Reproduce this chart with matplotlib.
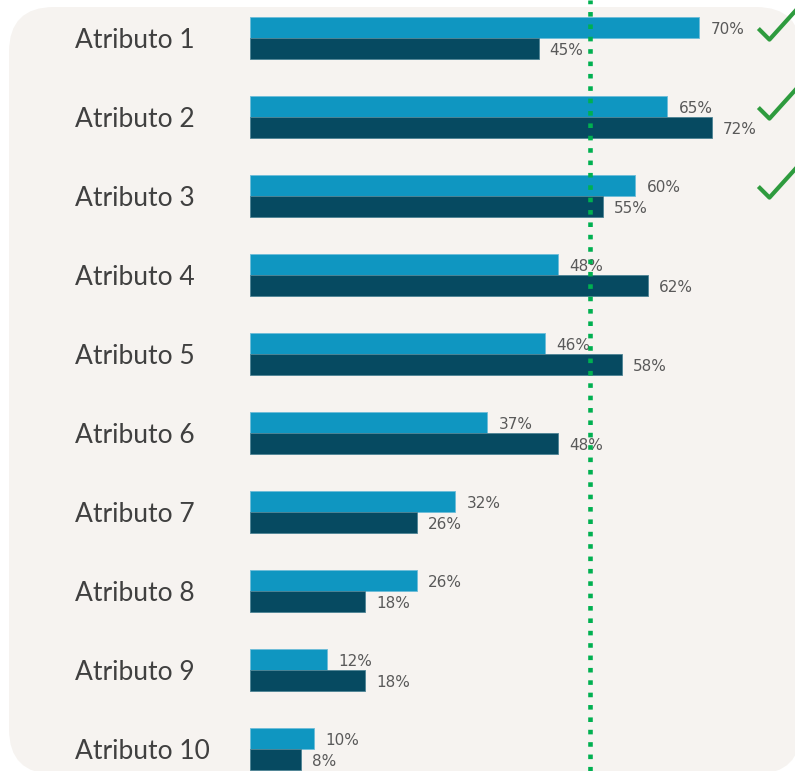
import matplotlib.pyplot as plt
from matplotlib.patches import FancyBboxPatch
from matplotlib.path import Path
import numpy as np

# datos
atributos = ['Atributo 1', 'Atributo 2', 'Atributo 3', 'Atributo 4', 'Atributo 5',
             'Atributo 6', 'Atributo 7', 'Atributo 8', 'Atributo 9', 'Atributo 10']
serie_a = [70, 65, 60, 48, 46, 37, 32, 26, 12, 10]   # barras claras
serie_b = [45, 72, 55, 62, 58, 48, 26, 18, 18, 8]    # barras oscuras
umbral = 53

claro = '#0f96c1'
oscuro = '#064a61'
verde = '#00b050'
fondo = '#f6f3f0'

fig = plt.figure(figsize=(7.95, 7.71), dpi=100)

# panel redondeado de fondo
panel = FancyBboxPatch((0.09, -0.03), 7.92, 7.67,
                       boxstyle='round,pad=0,rounding_size=0.45',
                       transform=fig.dpi_scale_trans, facecolor=fondo,
                       edgecolor='none', zorder=-1)
fig.patches.append(panel)

ax = fig.add_axes([0, 0, 1, 1])
ax.set_facecolor('none')
ax.set_xlim(-38.98, 84.97)
ax.set_ylim(9.278, -0.481)
ax.axis('off')

y = np.arange(len(atributos))
h = 0.266
ax.barh(y - h / 2, serie_a, height=h, color=claro, edgecolor='#6dbcd8', linewidth=0.6, zorder=2)
ax.barh(y + h / 2, serie_b, height=h, color=oscuro, edgecolor='#4d8394', linewidth=0.6, zorder=2)

# marca de verificación como marcador
check = Path([(-0.95, -0.2), (-0.4, -0.75), (1, 0.8)],
             [Path.MOVETO, Path.LINETO, Path.LINETO])

for i in range(len(atributos)):
    ax.text(-27.3, i + 0.03, atributos[i], fontsize=19, family='Lato',
            color='#404040', va='center', ha='left')
    ax.text(serie_a[i] + 1.8, i - h / 2 + 0.02, f'{serie_a[i]}%', fontsize=11,
            color='#595959', va='center', ha='left', zorder=1)
    ax.text(serie_b[i] + 1.7, i + h / 2 + 0.03, f'{serie_b[i]}%', fontsize=11,
            color='#595959', va='center', ha='left', zorder=1)
    if serie_a[i] > umbral:
        ax.plot(82.2, i - 0.18, marker=check, markersize=29, markerfacecolor='none',
                markeredgecolor='#2e9b3e', markeredgewidth=3.0, clip_on=False)

ax.axvline(umbral, color=verde, linewidth=3.3, linestyle=(0, (1.0, 1.7)),
           dash_capstyle='butt', zorder=3)

plt.savefig('out.png', dpi=100)
